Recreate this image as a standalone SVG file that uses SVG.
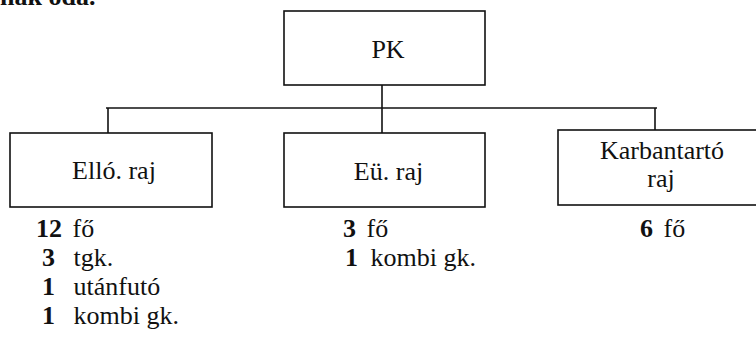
<svg xmlns="http://www.w3.org/2000/svg" width="756" height="347" viewBox="0 0 756 347">
<style>
.box{fill:#fff;stroke:#111;stroke-width:1.6}
.ln{stroke:#111;stroke-width:1.6;fill:none}
text{font-family:"Liberation Serif","Times New Roman",serif;font-size:26px;fill:#111}
.c{text-anchor:middle}
.b{font-weight:bold}
</style>
<rect width="756" height="347" fill="#fff"/>
<text x="0" y="5" class="b">nak oda.</text>
<g id="connectors">
<line class="ln" x1="382" y1="85" x2="382" y2="133"/>
<line class="ln" x1="106" y1="108" x2="657" y2="108"/>
<line class="ln" x1="108" y1="108" x2="108" y2="133"/>
<line class="ln" x1="655" y1="108" x2="655" y2="130"/>
</g>
<g id="pk">
<rect class="box" x="284" y="11" width="201" height="74"/>
<text class="c" x="388" y="58">PK</text>
</g>
<g id="ello">
<rect class="box" x="10" y="133" width="202" height="74"/>
<text class="c" x="114" y="179">Elló. raj</text>
</g>
<g id="eu">
<rect class="box" x="284" y="133" width="201" height="74"/>
<text class="c" x="388.5" y="180">Eü. raj</text>
</g>
<g id="karbantarto">
<rect class="box" x="558" y="130" width="220" height="75"/>
<text class="c" x="662" y="159">Karbantartó</text>
<text class="c" x="661" y="187">raj</text>
</g>
<g id="ello-details">
<text x="36" y="237"><tspan class="b">12</tspan><tspan dx="4"> fő</tspan></text>
<text x="42" y="266"><tspan class="b">3</tspan><tspan dx="12"> tgk.</tspan></text>
<text x="42" y="295"><tspan class="b">1</tspan><tspan dx="12"> utánfutó</tspan></text>
<text x="42" y="324"><tspan class="b">1</tspan><tspan dx="12"> kombi gk.</tspan></text>
</g>
<g id="eu-details">
<text x="343" y="237"><tspan class="b">3</tspan><tspan dx="4"> fő</tspan></text>
<text x="345" y="266"><tspan class="b">1</tspan><tspan dx="6"> kombi gk.</tspan></text>
</g>
<g id="karbantarto-details">
<text x="640" y="237"><tspan class="b">6</tspan><tspan dx="4"> fő</tspan></text>
</g>
</svg>
